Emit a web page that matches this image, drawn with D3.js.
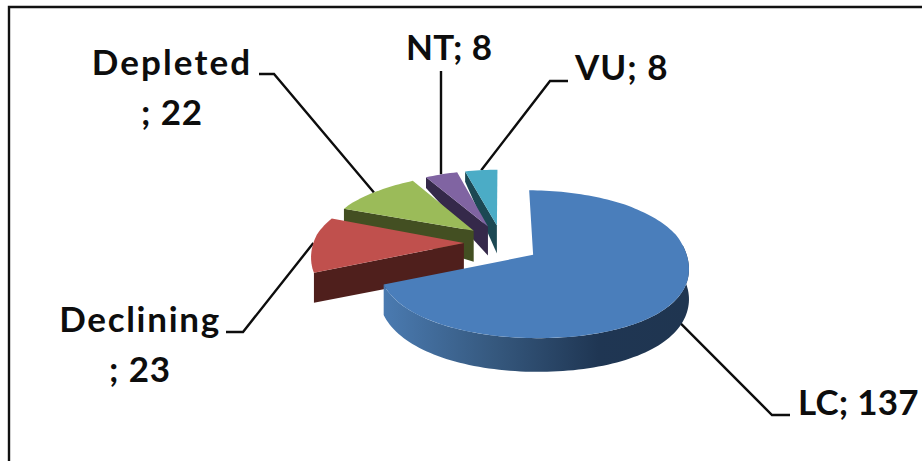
<!DOCTYPE html>
<html>
<head>
<meta charset="utf-8">
<script src="https://cdn.jsdelivr.net/npm/d3@7/dist/d3.min.js"></script>
<style>
html,body{margin:0;padding:0;background:#fff}
svg{display:block}
text{font-family:Lato,"Open Sans",sans-serif;font-weight:700;fill:#0d0d0d;font-size:35px}
</style>
</head>
<body>
<script>
// Threat status counts, in clockwise order from twelve o'clock
const categories = ["LC", "Declining", "Depleted", "NT", "VU"];
const counts = [137, 23, 22, 8, 8];
const topColors = ["#4a7ebb", "#c0504d", "#9bbb59", "#8064a2", "#4bacc6"];
const wallColors = ["#2e4d73", "#4f1f1c", "#434f22", "#35294a", "#1c4853"];

const W = 922, H = 461;
const explode = 0.25;      // slice offset as a share of the radius
const tilt = 0.14;         // horizontal shrink toward the back of the disc

// Disc space: u runs left to right, v runs back to front
const sx = d3.scaleLinear().domain([-1, 1]).range([351, 652]);
const sy = d3.scaleLinear()
  .domain([-1.3, -0.6, -0.3, -0.1, 0, 1.2])
  .range([167, 204, 222, 235, 243, 343]);
// Extrusion height shrinks quickly toward the back of the pie
const sz = d3.scaleLinear()
  .domain([-1.3, -0.5, -0.2, 0.4, 1.2])
  .range([10, 13, 31, 30, 34]);

function project(u, v, z = 0) {
  const s = 1 / (1 - tilt * v);
  return [sx(u * s), sy(v) + z * sz(v)];
}

const slices = d3.pie().sort(null).value(d => d)(counts).map((d, i) => {
  const mid = (d.startAngle + d.endAngle) / 2;
  return {
    i, mid,
    a0: d.startAngle, a1: d.endAngle,
    ox: explode * Math.sin(mid),
    oy: -explode * Math.cos(mid)
  };
});

const onArc = (sl, a, z = 0) =>
  project(sl.ox + Math.sin(a), sl.oy - Math.cos(a), z);
const apex = (sl, z = 0) => project(sl.ox, sl.oy, z);

function arcPoints(sl, from, to, z = 0) {
  const n = Math.max(2, Math.ceil((to - from) / 0.03));
  return d3.range(n + 1).map(k => onArc(sl, from + (to - from) * k / n, z));
}

const line = d3.line();
const svg = d3.select("body").append("svg").attr("width", W).attr("height", H);

const grad = svg.append("defs").append("linearGradient")
  .attr("id", "lcWall").attr("gradientUnits", "userSpaceOnUse")
  .attr("x1", 385).attr("x2", 690).attr("y1", 0).attr("y2", 0);
[[0, "#4a7ab0"], [0.35, "#36597f"], [0.7, "#1f3653"], [1, "#1f3550"]].forEach(([o, c]) =>
  grad.append("stop").attr("offset", o).attr("stop-color", c));

// Frame: only the top and left rules are drawn
svg.append("path").attr("d", line([[9, H], [9, 7], [W, 7]]))
  .attr("fill", "none").attr("stroke", "#111").attr("stroke-width", 2.4);

// Leader lines run from the label to the rim of each slice
const labelLayout = [
  { lines: null, anchor: [798, 415], leader: [[790, 415], [772, 415]], spacing: 0.2 },
  { lines: ["Declining", "; "], anchor: [140, 332], leader: [[226, 332], [243, 332]], spacing: 1.7 },
  { lines: ["Depleted", "; "], anchor: [172, 75], leader: [[259, 74], [274, 74]], spacing: 2.1 },
  { lines: null, anchor: [406, 60], leader: [[441, 71]], spacing: 0.4 },
  { lines: null, anchor: [575, 80], leader: [[568, 81], [550, 81]], spacing: 1 }
];

const leaders = svg.append("g");
slices.forEach(sl => {
  const lay = labelLayout[sl.i];
  let end = onArc(sl, sl.mid);
  if (sl.i === 0) end = onArc(sl, 2.14, 0.6);
  if (sl.i === 3) end = [lay.leader[0][0], end[1]];
  leaders.append("path").attr("d", line([...lay.leader, end]))
    .attr("fill", "none").attr("stroke", "#0d0d0d").attr("stroke-width", 2.4);
});

// Back-to-front: the small slices first, the large one last
const order = [4, 3, 2, 1, 0];
order.forEach(idx => {
  const sl = slices[idx];
  const g = svg.append("g");
  const wall = idx === 0 ? "url(#lcWall)" : wallColors[idx];

  if (idx === 0) {
    // Rim of the large slice, visible along its near edge
    const from = Math.PI / 2 - 0.12;
    const to = sl.a1;
    const poly = [...arcPoints(sl, from, to), ...arcPoints(sl, from, to, 1).reverse()];
    g.append("path").attr("d", line(poly) + "Z").attr("fill", wall);
  } else {
    // Cut face on the leading edge of the slice
    const poly = [onArc(sl, sl.a0), apex(sl), apex(sl, 1), onArc(sl, sl.a0, 1)];
    g.append("path").attr("d", line(poly) + "Z").attr("fill", wall);
  }

  const top = [apex(sl), ...arcPoints(sl, sl.a0, sl.a1)];
  g.append("path").attr("d", line(top) + "Z").attr("fill", topColors[idx]);
});

// Data labels
const labels = svg.append("g");
slices.forEach(sl => {
  const lay = labelLayout[sl.i];
  const text = `${categories[sl.i]}; ${counts[sl.i]}`;
  if (lay.lines) {
    labels.append("text").attr("x", lay.anchor[0]).attr("y", lay.anchor[1])
      .attr("text-anchor", "middle").attr("letter-spacing", lay.spacing).text(lay.lines[0]);
    labels.append("text").attr("x", lay.anchor[0]).attr("y", lay.anchor[1] + 50)
      .attr("text-anchor", "middle").attr("letter-spacing", 0.8).text(lay.lines[1] + counts[sl.i]);
  } else {
    labels.append("text").attr("x", lay.anchor[0]).attr("y", lay.anchor[1])
      .attr("letter-spacing", lay.spacing).text(text);
  }
});
</script>
</body>
</html>
